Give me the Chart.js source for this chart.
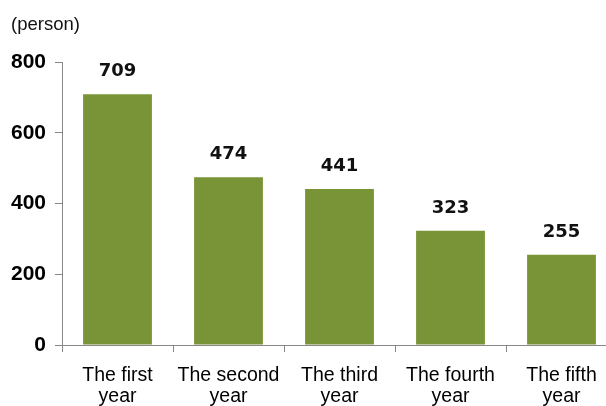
<!DOCTYPE html>
<html>
<head>
<meta charset="utf-8">
<script src="https://cdn.jsdelivr.net/npm/chart.js@4/dist/chart.umd.min.js"></script>
<style>
  html, body { margin: 0; padding: 0; background: #fff; overflow: hidden; }
  #wrap { position: relative; width: 618px; height: 406px; }
</style>
</head>
<body>
<div id="wrap"><canvas id="c"></canvas></div>
<script>
const categories = [["The first", "year"], ["The second", "year"], ["The third", "year"], ["The fourth", "year"], ["The fifth", "year"]];
const persons = [709, 474, 441, 323, 255];
const yTicks = [0, 200, 400, 600, 800];
const unitLabel = "(person)";

const valueLabels = {
  id: 'valueLabels',
  afterDatasetsDraw(chart) {
    const ctx = chart.ctx;
    const meta = chart.getDatasetMeta(0);
    ctx.save();
    ctx.font = 'bold 18px "DejaVu Sans"';
    ctx.fillStyle = '#111';
    ctx.textAlign = 'center';
    ctx.textBaseline = 'alphabetic';
    meta.data.forEach((bar, i) => {
      ctx.fillText(String(persons[i]), bar.x, bar.y - 18);
    });
    ctx.restore();
  }
};

const unitText = {
  id: 'unitText',
  afterDraw(chart) {
    const ctx = chart.ctx;
    ctx.save();
    ctx.font = '18.5px "Liberation Sans"';
    ctx.fillStyle = '#111';
    ctx.textAlign = 'left';
    ctx.textBaseline = 'middle';
    ctx.fillText(unitLabel, 11, 25);
    ctx.restore();
  }
};

new Chart(document.getElementById('c'), {
  type: 'bar',
  data: {
    labels: categories,
    datasets: [{
      data: persons,
      backgroundColor: '#789436',
      borderWidth: 0,
      categoryPercentage: 0.62,
      barPercentage: 1.0
    }]
  },
  options: {
    responsive: true,
    maintainAspectRatio: false,
    animation: false,
    layout: { padding: { top: 62, right: 1, left: 0, bottom: 0 } },
    plugins: { legend: { display: false }, tooltip: { enabled: false } },
    scales: {
      x: {
        grid: { display: true, drawOnChartArea: false, offset: true, tickLength: 7, color: '#888' },
        border: { color: '#888', width: 1 },
        ticks: {
          color: '#000',
          font: { family: '"Liberation Sans"', size: 19.5, lineHeight: 1.08 },
          padding: 13,
          maxRotation: 0,
          autoSkip: false
        },
        afterFit(scale) { scale.height = 61; }
      },
      y: {
        min: 0,
        max: 800,
        afterBuildTicks(scale) { scale.ticks = yTicks.map(v => ({ value: v })); },
        grid: { display: true, drawOnChartArea: false, tickLength: 7, color: '#888' },
        border: { color: '#888', width: 1 },
        ticks: {
          color: '#000',
          font: { family: '"Liberation Sans"', size: 21, weight: 'bold' },
          padding: 9
        },
        afterFit(scale) { scale.width = 62; }
      }
    }
  },
  plugins: [valueLabels, unitText]
});
</script>
</body>
</html>
